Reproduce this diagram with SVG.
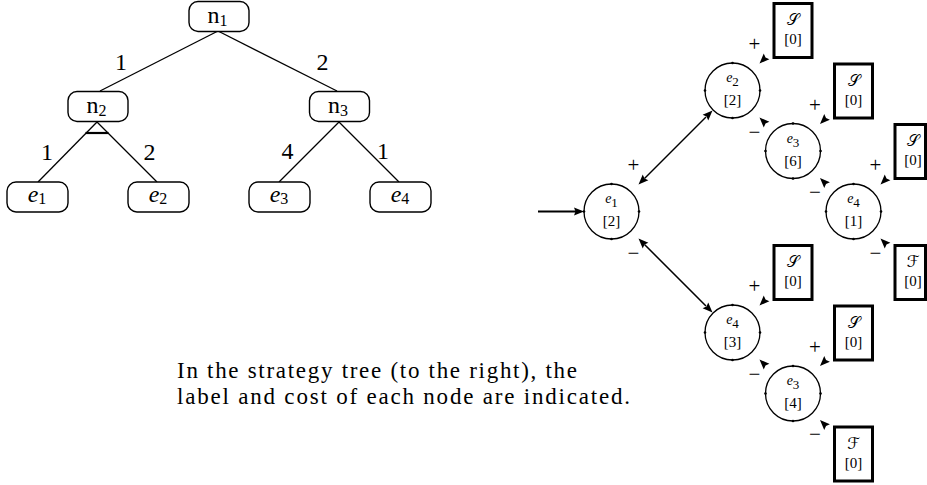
<svg xmlns="http://www.w3.org/2000/svg" xmlns:xlink="http://www.w3.org/1999/xlink" width="927" height="485" viewBox="0 0 927 485">
<style>
.bg{fill:#fff}
.tn{fill:#fff;stroke:#000;stroke-width:1.4}
.tl{stroke:#000;stroke-width:1.3;fill:none}
.lbl{font-family:"Liberation Serif","Times New Roman",serif;font-size:24px;fill:#000}
.sub{font-size:16px}
.it{font-style:italic}
.cir{fill:#fff;stroke:#000;stroke-width:1.3}
.box{fill:#fff;stroke:#000;stroke-width:3}
.cl{font-family:"Liberation Serif","Times New Roman",serif;font-size:15px;fill:#000;text-anchor:middle}
.cs{font-family:"DejaVu Serif","DejaVu Sans","Liberation Serif",serif;font-size:16px;fill:#000;text-anchor:middle}
.pm{font-family:"Liberation Serif","Times New Roman",serif;font-size:21px;fill:#000;text-anchor:middle}
.edge{stroke:#000;stroke-width:1.5;fill:none}
.cap{font-family:"Liberation Serif","Times New Roman",serif;font-size:23px;fill:#000}
</style>
<defs>
<path id="ah" d="M0,0 L-10,-4 L-8.5,0 L-10,4 Z" fill="#000"/>
<circle id="dot" r="1.3" fill="#000"/>
</defs>
<rect class="bg" width="927" height="485"/>

<!-- left tree connectors -->
<g id="tree-connectors">
<line class="tl" x1="218" y1="31" x2="100" y2="91"/>
<line class="tl" x1="218" y1="31" x2="337" y2="91"/>
<line class="tl" x1="97" y1="122" x2="38" y2="182"/>
<line class="tl" x1="97" y1="122" x2="157" y2="182"/>
<line x1="85.5" y1="133" x2="108.5" y2="133" stroke="#000" stroke-width="2.2"/>
<line class="tl" x1="339" y1="122" x2="279" y2="182"/>
<line class="tl" x1="339" y1="122" x2="399" y2="182"/>
<text class="lbl" x="121" y="70" text-anchor="middle">1</text>
<text class="lbl" x="322.5" y="70" text-anchor="middle">2</text>
<text class="lbl" x="47" y="160" text-anchor="middle">1</text>
<text class="lbl" x="149.5" y="160" text-anchor="middle">2</text>
<text class="lbl" x="287.5" y="159" text-anchor="middle">4</text>
<text class="lbl" x="383" y="159" text-anchor="middle">1</text>
</g>

<g id="n1"><rect class="tn" x="189" y="1.5" width="60" height="30" rx="9"/><text class="lbl" x="217.5" y="23" text-anchor="middle">n<tspan class="sub" dy="3">1</tspan></text></g>
<g id="n2"><rect class="tn" x="68" y="91.5" width="60" height="30" rx="9"/><text class="lbl" x="96.5" y="113" text-anchor="middle">n<tspan class="sub" dy="3">2</tspan></text></g>
<g id="n3"><rect class="tn" x="309.5" y="91.5" width="60" height="30" rx="9"/><text class="lbl" x="338" y="113" text-anchor="middle">n<tspan class="sub" dy="3">3</tspan></text></g>
<g id="e1"><rect class="tn" x="7" y="182" width="61" height="30" rx="9"/><text class="lbl" x="37" y="202" text-anchor="middle"><tspan class="it">e</tspan><tspan class="sub" dy="2">1</tspan></text></g>
<g id="e2"><rect class="tn" x="128" y="182" width="61" height="30" rx="9"/><text class="lbl" x="158" y="202" text-anchor="middle"><tspan class="it">e</tspan><tspan class="sub" dy="2">2</tspan></text></g>
<g id="e3"><rect class="tn" x="249" y="182" width="61" height="30" rx="9"/><text class="lbl" x="279" y="202" text-anchor="middle"><tspan class="it">e</tspan><tspan class="sub" dy="2">3</tspan></text></g>
<g id="e4"><rect class="tn" x="370" y="182" width="61" height="30" rx="9"/><text class="lbl" x="400" y="202" text-anchor="middle"><tspan class="it">e</tspan><tspan class="sub" dy="2">4</tspan></text></g>

<text class="cap" x="177" y="378" textLength="400" lengthAdjust="spacing">In the strategy tree (to the right), the</text>
<text class="cap" x="177" y="404" textLength="453" lengthAdjust="spacing">label and cost of each node are indicated.</text>

<!-- strategy tree connectors -->
<g id="connectors">
<line x1="538" y1="211.5" x2="577" y2="211.5" stroke="#000" stroke-width="2"/>
<use href="#ah" transform="translate(584,211.5)"/>
<line class="edge" x1="644.5" y1="178.5" x2="706" y2="117"/>
<use href="#ah" transform="translate(712.5,110.5) rotate(-45)"/>
<line class="edge" x1="644.5" y1="244.5" x2="706" y2="306"/>
<use href="#ah" transform="translate(712.5,312.5) rotate(45)"/>
<use href="#ah" transform="translate(638.5,184.5) rotate(135)"/>
<use href="#ah" transform="translate(638.5,238.5) rotate(225)"/>
<use href="#ah" transform="translate(759.5,63.5) rotate(135)"/>
<use href="#ah" transform="translate(759.5,117.5) rotate(225)"/>
<use href="#ah" transform="translate(820,124) rotate(135)"/>
<use href="#ah" transform="translate(820,178) rotate(225)"/>
<use href="#ah" transform="translate(880.5,184.5) rotate(135)"/>
<use href="#ah" transform="translate(880.5,238.5) rotate(225)"/>
<use href="#ah" transform="translate(759.5,305.5) rotate(135)"/>
<use href="#ah" transform="translate(759.5,359.5) rotate(225)"/>
<use href="#ah" transform="translate(820,366) rotate(135)"/>
<use href="#ah" transform="translate(820,420) rotate(225)"/>
<text class="pm" x="633.5" y="172">+</text>
<text class="pm" x="633.5" y="259.5">−</text>
<text class="pm" x="754.5" y="51">+</text>
<text class="pm" x="754.5" y="138.5">−</text>
<text class="pm" x="815" y="111.5">+</text>
<text class="pm" x="815" y="199">−</text>
<text class="pm" x="875.5" y="172">+</text>
<text class="pm" x="875.5" y="259.5">−</text>
<text class="pm" x="754.5" y="293">+</text>
<text class="pm" x="754.5" y="380.5">−</text>
<text class="pm" x="815" y="353.5">+</text>
<text class="pm" x="815" y="441">−</text>
</g>

<g id="s-e1">
<circle class="cir" cx="611.5" cy="211.5" r="27.5"/>
<use href="#dot" x="584" y="211.5"/><use href="#dot" x="639" y="211.5"/><use href="#dot" x="611.5" y="239"/><use href="#dot" x="611.5" y="184"/>
<text class="cl" x="611.5" y="203"><tspan class="it" font-size="14">e</tspan><tspan font-size="13" dy="4">1</tspan></text>
<text class="cl" x="611.5" y="226">[2]</text>
</g>
<g id="s-e2">
<circle class="cir" cx="732.5" cy="90.5" r="27.5"/>
<use href="#dot" x="705" y="90.5"/><use href="#dot" x="760" y="90.5"/><use href="#dot" x="732.5" y="118"/><use href="#dot" x="732.5" y="63"/>
<text class="cl" x="732.5" y="82"><tspan class="it" font-size="14">e</tspan><tspan font-size="13" dy="4">2</tspan></text>
<text class="cl" x="732.5" y="105">[2]</text>
</g>
<g id="s-e3a">
<circle class="cir" cx="793" cy="151" r="27.5"/>
<use href="#dot" x="765.5" y="151"/><use href="#dot" x="820.5" y="151"/><use href="#dot" x="793" y="178.5"/><use href="#dot" x="793" y="123.5"/>
<text class="cl" x="793" y="142.5"><tspan class="it" font-size="14">e</tspan><tspan font-size="13" dy="4">3</tspan></text>
<text class="cl" x="793" y="165.5">[6]</text>
</g>
<g id="s-e4a">
<circle class="cir" cx="853.5" cy="211.5" r="27.5"/>
<use href="#dot" x="826" y="211.5"/><use href="#dot" x="881" y="211.5"/><use href="#dot" x="853.5" y="239"/><use href="#dot" x="853.5" y="184"/>
<text class="cl" x="853.5" y="203"><tspan class="it" font-size="14">e</tspan><tspan font-size="13" dy="4">4</tspan></text>
<text class="cl" x="853.5" y="226">[1]</text>
</g>
<g id="s-e4b">
<circle class="cir" cx="732.5" cy="332.5" r="27.5"/>
<use href="#dot" x="705" y="332.5"/><use href="#dot" x="760" y="332.5"/><use href="#dot" x="732.5" y="360"/><use href="#dot" x="732.5" y="305"/>
<text class="cl" x="732.5" y="324"><tspan class="it" font-size="14">e</tspan><tspan font-size="13" dy="4">4</tspan></text>
<text class="cl" x="732.5" y="347">[3]</text>
</g>
<g id="s-e3b">
<circle class="cir" cx="793" cy="393.5" r="27.5"/>
<use href="#dot" x="765.5" y="393.5"/><use href="#dot" x="820.5" y="393.5"/><use href="#dot" x="793" y="421"/><use href="#dot" x="793" y="366"/>
<text class="cl" x="793" y="385"><tspan class="it" font-size="14">e</tspan><tspan font-size="13" dy="4">3</tspan></text>
<text class="cl" x="793" y="408">[4]</text>
</g>

<g id="b1"><rect class="box" x="774" y="3.5" width="38" height="54"/><text class="cs" x="793" y="25">𝒮</text><text class="cl" x="793" y="44">[0]</text></g>
<g id="b2"><rect class="box" x="834.5" y="64" width="38" height="54"/><text class="cs" x="853.5" y="85.5">𝒮</text><text class="cl" x="853.5" y="104.5">[0]</text></g>
<g id="b3"><rect class="box" x="895" y="124.5" width="30.5" height="54"/><text class="cs" x="913" y="146">𝒮</text><text class="cl" x="913" y="165">[0]</text></g>
<g id="b4"><rect class="box" x="895" y="245.5" width="30.5" height="54"/><text class="cs" x="913" y="267">ℱ</text><text class="cl" x="913" y="286">[0]</text></g>
<g id="b5"><rect class="box" x="774" y="245.5" width="38" height="54"/><text class="cs" x="793" y="267">𝒮</text><text class="cl" x="793" y="286">[0]</text></g>
<g id="b6"><rect class="box" x="834.5" y="306" width="38" height="54"/><text class="cs" x="853.5" y="327.5">𝒮</text><text class="cl" x="853.5" y="346.5">[0]</text></g>
<g id="b7"><rect class="box" x="834.5" y="427" width="38" height="54"/><text class="cs" x="853.5" y="448.5">ℱ</text><text class="cl" x="853.5" y="467.5">[0]</text></g>
</svg>
